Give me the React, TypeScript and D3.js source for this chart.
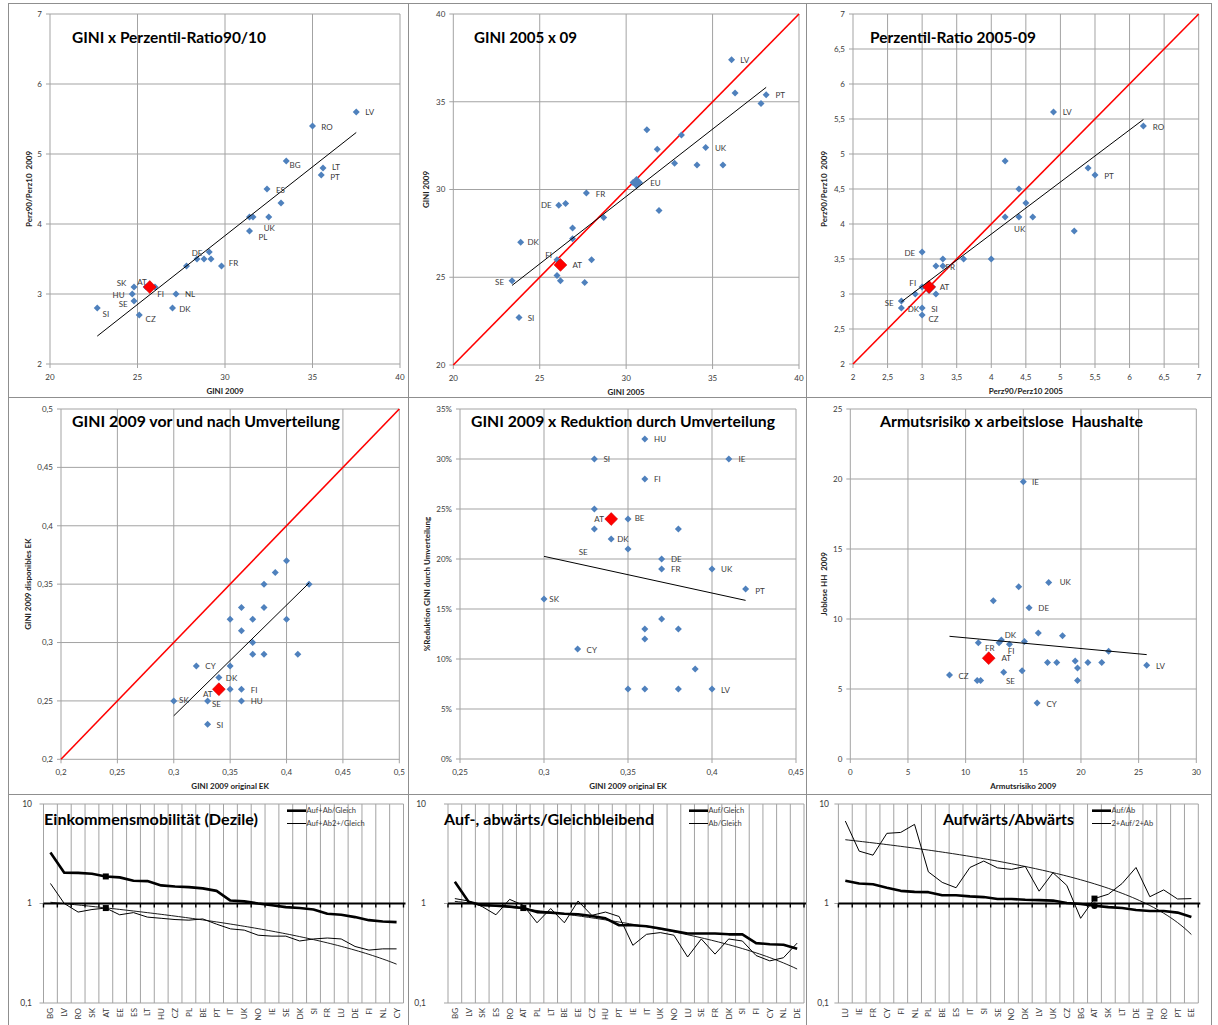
import React from "react";
import * as d3 from "d3";

type Pt = [string, number, number];
type Anchor = "start" | "middle" | "end";
type Off = Record<string, [number, number, Anchor?]>;

// ---------------- DATA ----------------
// Panel 1: GINI 2009 (x) vs Perz90/Perz10 2009 (y)
const p1Points: Pt[] = [
  ["LV", 37.5, 5.6], ["RO", 35.0, 5.4], ["BG", 33.5, 4.9], ["LT", 35.6, 4.8], ["PT", 35.5, 4.7],
  ["ES", 32.4, 4.5], ["", 33.2, 4.3], ["", 31.4, 4.1], ["UK", 31.6, 4.1], ["", 32.5, 4.1],
  ["PL", 31.4, 3.9], ["", 29.1, 3.6], ["DE", 28.4, 3.5], ["", 28.8, 3.5], ["", 29.2, 3.5],
  ["", 27.8, 3.4], ["FR", 29.8, 3.4], ["SK", 24.8, 3.1], ["", 25.5, 3.1], ["FI", 26.0, 3.1],
  ["HU", 24.7, 3.0], ["SE", 24.8, 2.9], ["NL", 27.2, 3.0], ["DK", 27.0, 2.8], ["CZ", 25.1, 2.7],
  ["SI", 22.7, 2.8],
];
const p1AT: Pt = ["AT", 25.7, 3.1];
const p1XTicks = [20, 25, 30, 35, 40];
const p1YTicks = [2, 3, 4, 5, 6, 7];

// Panel 2: GINI 2005 (x) vs GINI 2009 (y)
const p2Points: Pt[] = [
  ["LV", 36.1, 37.4], ["", 36.3, 35.5], ["PT", 38.1, 35.4], ["", 37.8, 34.9], ["", 31.2, 33.4],
  ["", 33.2, 33.1], ["", 31.8, 32.3], ["UK", 34.6, 32.4], ["", 32.8, 31.5], ["", 34.1, 31.4],
  ["", 35.6, 31.4], ["", 30.4, 30.4], ["", 31.9, 28.8], ["FR", 27.7, 29.8], ["DE", 26.1, 29.1],
  ["", 26.5, 29.2], ["", 28.7, 28.4], ["", 26.9, 27.8], ["", 26.9, 27.2], ["DK", 23.9, 27.0],
  ["", 28.0, 26.0], ["FI", 26.0, 26.0], ["", 26.0, 25.1], ["", 26.2, 24.8], ["", 27.6, 24.7],
  ["SE", 23.4, 24.8], ["SI", 23.8, 22.7],
];
const p2EU: Pt[] = [["EU", 30.6, 30.4]];
const p2AT: Pt = ["AT", 26.2, 25.7];
const p2Ticks = [20, 25, 30, 35, 40];

// Panel 3: Perz90/Perz10 2005 (x) vs 2009 (y)
const p3Points: Pt[] = [
  ["LV", 4.9, 5.6], ["RO", 6.2, 5.4], ["", 4.2, 4.9], ["", 5.4, 4.8], ["PT", 5.5, 4.7],
  ["", 4.4, 4.5], ["", 4.5, 4.3], ["", 4.2, 4.1], ["UK", 4.4, 4.1], ["", 4.6, 4.1],
  ["", 5.2, 3.9], ["DE", 3.0, 3.6], ["", 3.3, 3.5], ["", 3.6, 3.5], ["", 4.0, 3.5],
  ["", 3.2, 3.4], ["FR", 3.3, 3.4], ["FI", 3.0, 3.1], ["", 3.15, 3.1], ["", 3.1, 3.05],
  ["", 3.2, 3.0], ["", 2.9, 3.0], ["SE", 2.7, 2.9], ["DK", 2.7, 2.8], ["SI", 3.0, 2.8],
  ["CZ", 3.0, 2.7],
];
const p3AT: Pt = ["AT", 3.1, 3.1];
const p3Ticks = [2, 2.5, 3, 3.5, 4, 4.5, 5, 5.5, 6, 6.5, 7];

// Panel 4: GINI 2009 original EK (x) vs disponibles EK (y)
const p4Points: Pt[] = [
  ["", 0.40, 0.37], ["", 0.39, 0.36], ["", 0.38, 0.35], ["", 0.42, 0.35], ["", 0.36, 0.33],
  ["", 0.38, 0.33], ["", 0.35, 0.32], ["", 0.37, 0.32], ["", 0.40, 0.32], ["", 0.36, 0.31],
  ["", 0.37, 0.30], ["", 0.37, 0.29], ["", 0.38, 0.29], ["", 0.41, 0.29], ["CY", 0.32, 0.28],
  ["", 0.35, 0.28], ["DK", 0.34, 0.27], ["", 0.35, 0.26], ["FI", 0.36, 0.26], ["SK", 0.30, 0.25],
  ["SE", 0.33, 0.25], ["HU", 0.36, 0.25], ["SI", 0.33, 0.23],
];
const p4AT: Pt = ["AT", 0.34, 0.26];
const p4Ticks = [0.2, 0.25, 0.3, 0.35, 0.4, 0.45, 0.5];

// Panel 5: GINI 2009 original EK (x) vs % reduction (y)
const p5Points: Pt[] = [
  ["HU", 0.36, 0.32], ["SI", 0.33, 0.30], ["IE", 0.41, 0.30], ["FI", 0.36, 0.28], ["", 0.33, 0.25],
  ["BE", 0.35, 0.24], ["SE", 0.33, 0.23], ["", 0.38, 0.23], ["DK", 0.34, 0.22], ["", 0.35, 0.21],
  ["DE", 0.37, 0.20], ["FR", 0.37, 0.19], ["UK", 0.40, 0.19], ["PT", 0.42, 0.17], ["SK", 0.30, 0.16],
  ["", 0.37, 0.14], ["", 0.36, 0.13], ["", 0.38, 0.13], ["", 0.36, 0.12], ["CY", 0.32, 0.11],
  ["", 0.39, 0.09], ["", 0.35, 0.07], ["", 0.36, 0.07], ["", 0.38, 0.07], ["LV", 0.40, 0.07],
];
const p5AT: Pt = ["AT", 0.34, 0.24];
const p5XTicks = [0.25, 0.3, 0.35, 0.4, 0.45];
const p5YTicks = [0, 0.05, 0.1, 0.15, 0.2, 0.25, 0.3, 0.35];

// Panel 6: Armutsrisiko 2009 (x) vs Joblose HH 2009 (y)
const p6Points: Pt[] = [
  ["IE", 15.0, 19.8], ["UK", 17.2, 12.6], ["", 14.6, 12.3], ["", 12.4, 11.3], ["DE", 15.5, 10.8],
  ["", 16.3, 9.0], ["", 18.4, 8.8], ["DK", 13.1, 8.5], ["", 15.1, 8.4], ["", 12.9, 8.3],
  ["FR", 11.1, 8.3], ["FI", 13.8, 8.2], ["", 22.4, 7.7], ["", 17.1, 6.9], ["", 17.9, 6.9],
  ["", 19.5, 7.0], ["", 20.6, 6.9], ["", 21.8, 6.9], ["", 19.7, 6.5], ["LV", 25.7, 6.7],
  ["CZ", 8.6, 6.0], ["SE", 13.3, 6.2], ["", 14.9, 6.3], ["", 11.0, 5.6], ["", 11.3, 5.6],
  ["", 19.7, 5.6], ["CY", 16.2, 4.0],
];
const p6AT: Pt = ["AT", 12.0, 7.2];
const p6XTicks = [0, 5, 10, 15, 20, 25, 30];
const p6YTicks = [0, 5, 10, 15, 20, 25];

// Panel 7: Einkommensmobilität (Dezile)
const p7Cats = ["BG", "LV", "RO", "SK", "AT", "EE", "ES", "LT", "HU", "CZ", "PL", "BE", "PT", "IT", "UK", "NO", "IE", "SE", "DK", "SI", "FR", "LU", "DE", "FI", "NL", "CY"];
const p7Thick = [3.26, 2.04, 2.03, 1.99, 1.87, 1.83, 1.69, 1.68, 1.52, 1.48, 1.46, 1.42, 1.34, 1.07, 1.05, 1.0, 0.96, 0.92, 0.9, 0.87, 0.79, 0.77, 0.73, 0.68, 0.66, 0.65];
const p7Thin = [1.59, 1.0, 0.82, 0.87, 0.9, 0.77, 0.81, 0.73, 0.71, 0.69, 0.68, 0.7, 0.62, 0.556, 0.54, 0.48, 0.47, 0.47, 0.42, 0.44, 0.45, 0.44, 0.37, 0.34, 0.35, 0.35];

// Panel 8: Auf-, abwärts/Gleichbleibend
const p8Cats = ["BG", "LV", "SK", "ES", "RO", "AT", "PL", "LT", "BE", "EE", "CZ", "HU", "PT", "IE", "IT", "UK", "NO", "LU", "SE", "FR", "DK", "SI", "FI", "CY", "NL", "DE"];
const p8Thick = [1.65, 1.04, 0.96, 0.95, 0.93, 0.9, 0.82, 0.81, 0.79, 0.78, 0.75, 0.71, 0.605, 0.605, 0.59, 0.56, 0.53, 0.5, 0.5, 0.5, 0.49, 0.49, 0.4, 0.39, 0.385, 0.35];
const p8Thin = [1.12, 1.06, 0.93, 0.77, 1.1, 0.96, 0.64, 0.89, 0.64, 1.06, 0.76, 0.82, 0.74, 0.38, 0.49, 0.51, 0.48, 0.29, 0.44, 0.31, 0.44, 0.42, 0.3, 0.265, 0.285, 0.4];

// Panel 9: Aufwärts/Abwärts
const p9Cats = ["LU", "IE", "FR", "CY", "FI", "NL", "PL", "BE", "ES", "IT", "SI", "SE", "NO", "DK", "LV", "UK", "CZ", "BG", "AT", "SK", "LT", "DE", "HU", "RO", "PT", "EE"];
const p9Thick = [1.69, 1.59, 1.56, 1.44, 1.34, 1.31, 1.3, 1.21, 1.21, 1.18, 1.16, 1.11, 1.11, 1.09, 1.08, 1.07, 1.01, 0.99, 0.95, 0.92, 0.9, 0.86, 0.84, 0.84, 0.81, 0.73];
const p9Thin = [6.74, 3.36, 3.06, 5.07, 5.18, 6.24, 2.08, 1.63, 1.44, 2.3, 2.67, 2.28, 2.2, 2.36, 1.33, 2.04, 1.52, 0.71, 1.12, 1.24, 1.59, 2.3, 1.17, 1.37, 1.11, 1.12];

const logTicks = [0.1, 1, 10];

// ---------------- STYLE / LAYOUT ----------------
const FONT = "Lato, 'Open Sans', 'DejaVu Sans', sans-serif";
const GRID = "#a3a3a3";
const BLUE = "#4F81BD";
const TXT = "#3a3a3a";

const comma = (v: number) => String(v).replace(".", ",");
const pct = (v: number) => `${Math.round(v * 100)}%`;

function linReg(pts: [number, number][]): [number, number] {
  const mx = d3.mean(pts, (p) => p[0]) as number;
  const my = d3.mean(pts, (p) => p[1]) as number;
  let sxy = 0;
  let sxx = 0;
  for (const [a, b] of pts) {
    sxy += (a - mx) * (b - my);
    sxx += (a - mx) * (a - mx);
  }
  const s = sxy / sxx;
  return [s, my - s * mx];
}

const diamond = (r: number) => `M0,${-r}L${r},0L0,${r}L${-r},0Z`;

interface ScatterProps {
  plot: [number, number, number, number];
  xDomain: [number, number];
  yDomain: [number, number];
  xTicks: number[];
  yTicks: number[];
  fmtX: (v: number) => string;
  fmtY: (v: number) => string;
  title: string;
  titleX: number;
  titleY: number;
  titleW: number;
  titleSize: number;
  xTitle: string;
  yTitle: string;
  yTitleX: number;
  points: Pt[];
  at: Pt;
  extra?: Pt[];
  diag?: boolean;
  offsets: Off;
}

function Scatter(p: ScatterProps) {
  const [x0, x1, y0, y1] = p.plot;
  const x = d3.scaleLinear().domain(p.xDomain).range([x0, x1]);
  const y = d3.scaleLinear().domain(p.yDomain).range([y1, y0]);
  const [m, b] = linReg(p.points.map((q) => [q[1], q[2]] as [number, number]));
  const [ex0, ex1] = d3.extent(p.points, (q) => q[1]) as [number, number];
  const trend = d3.line()([
    [x(ex0), y(m * ex0 + b)],
    [x(ex1), y(m * ex1 + b)],
  ]) as string;
  const labelled = [...p.points, ...(p.extra || []), p.at].filter((q) => q[0]);
  return (
    <g>
      {p.xTicks.map((t, i) => (
        <line key={"gx" + i} x1={x(t)} x2={x(t)} y1={y0} y2={y1 + 4} stroke={GRID} strokeWidth={1} />
      ))}
      {p.yTicks.map((t, i) => (
        <line key={"gy" + i} x1={x0 - 4} x2={x1} y1={y(t)} y2={y(t)} stroke={GRID} strokeWidth={1} />
      ))}
      {p.xTicks.map((t, i) => (
        <text key={"tx" + i} x={x(t)} y={y1 + 16} textAnchor="middle" fontSize={8} fill={TXT}>
          {p.fmtX(t)}
        </text>
      ))}
      {p.yTicks.map((t, i) => (
        <text key={"ty" + i} x={x0 - 8} y={y(t)} dy="0.35em" textAnchor="end" fontSize={8} fill={TXT}>
          {p.fmtY(t)}
        </text>
      ))}
      <text x={(x0 + x1) / 2} y={y1 + 29.5} textAnchor="middle" fontSize={8} fontWeight="bold" fill="#222">
        {p.xTitle}
      </text>
      <text
        transform={`translate(${p.yTitleX + 3},${(y0 + y1) / 2}) rotate(-90)`}
        textAnchor="middle"
        fontSize={8}
        fontWeight="bold"
        fill="#222"
        style={{ whiteSpace: "pre" }}
      >
        {p.yTitle}
      </text>
      {p.diag && (
        <line
          x1={x(p.xDomain[0])}
          y1={y(p.yDomain[0])}
          x2={x(p.xDomain[1])}
          y2={y(p.yDomain[1])}
          stroke="#FF0000"
          strokeWidth={1.6}
        />
      )}
      {p.points.map((q, i) => (
        <path key={"pt" + i} d={diamond(3.5)} transform={`translate(${x(q[1])},${y(q[2])})`} fill={BLUE} />
      ))}
      {(p.extra || []).map((q, i) => (
        <path key={"ex" + i} d={diamond(6.5)} transform={`translate(${x(q[1])},${y(q[2])})`} fill={BLUE} />
      ))}
      <path d={diamond(6.4)} transform={`translate(${x(p.at[1])},${y(p.at[2])})`} fill="#FF0000" stroke="#d00000" strokeWidth={0.6} />
      <path d={trend} stroke="#000" strokeWidth={1} fill="none" />
      {labelled.map((q, i) => {
        const o = p.offsets[q[0]] || [9, 0.5, "start"];
        return (
          <text
            key={"lb" + i}
            x={x(q[1]) + o[0]}
            y={y(q[2]) + o[1]}
            dy="0.35em"
            textAnchor={o[2] || "start"}
            fontSize={8}
            fill={TXT}
          >
            {q[0]}
          </text>
        );
      })}
      <text
        x={p.titleX}
        y={p.titleY}
        fontSize={p.titleSize}
        fontWeight="bold"
        fill="#000"
        textLength={p.titleW}
        lengthAdjust="spacingAndGlyphs"
        style={{ whiteSpace: "pre" }}
      >
        {p.title}
      </text>
    </g>
  );
}

interface LineProps {
  plot: [number, number, number, number];
  cats: string[];
  thick: number[];
  thin: number[];
  title: string;
  titleX: number;
  titleW: number;
  legend: [string, string];
  legendX: number;
  tickLabelX: number;
  marks: { series: "thick" | "thin"; shape: "square" | "circle" }[];
}

function LinePanel(p: LineProps) {
  const [x0, x1, y0, y1] = p.plot;
  const x = d3.scaleBand<string>().domain(p.cats).range([x0, x1]);
  const bw = x.bandwidth();
  const y = d3.scaleLog().domain([0.1, 10]).range([y1, y0]);
  const cx = (c: string) => (x(c) as number) + bw / 2;
  const bounds = [...p.cats.map((c) => x(c) as number), x1];
  const line = d3
    .line<[string, number]>()
    .x((d) => cx(d[0]))
    .y((d) => y(d[1]));
  const thickPath = line(p.cats.map((c, i) => [c, p.thick[i]])) as string;
  const thinPath = line(p.cats.map((c, i) => [c, p.thin[i]])) as string;
  const [s, b] = linReg(p.thin.map((v, i) => [i, v] as [number, number]));
  const steps = d3.range(0, p.cats.length - 1 + 0.001, 0.25);
  const trendPath = d3.line()(steps.map((t) => [x0 + bw / 2 + t * bw, y(b + s * t)] as [number, number])) as string;
  const atIdx = p.cats.indexOf("AT");
  const lx = p.legendX;
  return (
    <g>
      {bounds.map((bx, i) => (
        <line key={"vb" + i} x1={bx} x2={bx} y1={y0} y2={y1} stroke={GRID} strokeWidth={1} />
      ))}
      {logTicks.map((t, i) => (
        <line key={"hg" + i} x1={x0 - 4} x2={x1} y1={y(t)} y2={y(t)} stroke={GRID} strokeWidth={1} />
      ))}
      {logTicks.map((t, i) => (
        <text key={"yl" + i} x={p.tickLabelX} y={y(t)} dy="0.35em" textAnchor="end" fontSize={8.5} fill={TXT}>
          {comma(t)}
        </text>
      ))}
      {p.cats.map((c, i) => (
        <text
          key={"cl" + i}
          transform={`translate(${cx(c) + 3},${y1 + 5}) rotate(-90)`}
          textAnchor="end"
          fontSize={8}
          fill={TXT}
        >
          {c}
        </text>
      ))}
      <path d={trendPath} stroke="#000" strokeWidth={0.9} fill="none" />
      <path d={thinPath} stroke="#000" strokeWidth={1} fill="none" />
      <path d={thickPath} stroke="#000" strokeWidth={2.6} fill="none" strokeLinejoin="round" />
      <line x1={x0} x2={x1 + 2} y1={y(1)} y2={y(1)} stroke="#000" strokeWidth={2.2} />
      {bounds.map((bx, i) => (
        <line key={"tk" + i} x1={bx} x2={bx} y1={y(1)} y2={y(1) + 4} stroke="#000" strokeWidth={1.4} />
      ))}
      {p.marks.map((mk, i) => {
        const v = mk.series === "thick" ? p.thick[atIdx] : p.thin[atIdx];
        const px = cx("AT");
        const py = y(v);
        return mk.shape === "square" ? (
          <rect key={"mk" + i} x={px - 3} y={py - 3} width={6} height={6} fill="#000" />
        ) : (
          <circle key={"mk" + i} cx={px} cy={py} r={3.2} fill="#000" />
        );
      })}
      <line x1={lx} x2={lx + 19} y1={810.7} y2={810.7} stroke="#000" strokeWidth={2.6} />
      <line x1={lx} x2={lx + 19} y1={823.5} y2={823.5} stroke="#000" strokeWidth={1} />
      <text x={lx + 19.5} y={810.7} dy="0.35em" fontSize={7.5} fill={TXT}>
        {p.legend[0]}
      </text>
      <text x={lx + 19.5} y={823.5} dy="0.35em" fontSize={7.5} fill={TXT}>
        {p.legend[1]}
      </text>
      <text
        x={p.titleX}
        y={825}
        fontSize={15.5}
        fontWeight="bold"
        fill="#000"
        textLength={p.titleW}
        lengthAdjust="spacingAndGlyphs"
      >
        {p.title}
      </text>
    </g>
  );
}

const cols = [8, 408, 806, 1211];
const rows = [3, 397, 794, 1030];

export default function App() {
  return (
    <svg
      width={1218}
      height={1025}
      style={{ position: "absolute", left: 0, top: 0, background: "#fff" }}
      fontFamily={FONT}
    >
      <rect x={0} y={0} width={1218} height={1025} fill="#fff" />
      {rows.slice(0, 3).map((ry, j) =>
        cols.slice(0, 3).map((cxx, i) => (
          <rect
            key={`fr${i}${j}`}
            x={cxx + 0.5}
            y={ry + 0.5}
            width={cols[i + 1] - cxx}
            height={rows[j + 1] - ry}
            fill="none"
            stroke="#8f8f8f"
            strokeWidth={1}
          />
        ))
      )}
      <Scatter
        plot={[50, 400, 14, 364]}
        xDomain={[20, 40]}
        yDomain={[2, 7]}
        xTicks={p1XTicks}
        yTicks={p1YTicks}
        fmtX={comma}
        fmtY={comma}
        title="GINI x Perzentil-Ratio90/10"
        titleX={72}
        titleY={43}
        titleW={194}
        titleSize={14.5}
        xTitle="GINI 2009"
        yTitle="Perz90/Perz10  2009"
        yTitleX={29.3}
        points={p1Points}
        at={p1AT}
        offsets={{
          LV: [9, 0], RO: [8.7, 0.7], BG: [3.3, 4], LT: [9, -0.8], PT: [9, 1.8], ES: [9, 1],
          UK: [10.7, 11.3], PL: [9, 6], DE: [-5.3, -6], FR: [7.3, -3.3], SK: [-7.7, -4, "end"],
          AT: [-3, -5.3, "end"], FI: [2.3, 7], HU: [-7.7, 0.7, "end"], SE: [-6.3, 2.7, "end"],
          NL: [9, 0.3], DK: [6.7, 0.7], CZ: [6.3, 4], SI: [5.3, 5.7],
        }}
      />
      <Scatter
        plot={[453.3, 799, 14, 365]}
        xDomain={[20, 40]}
        yDomain={[20, 40]}
        xTicks={p2Ticks}
        yTicks={p2Ticks}
        fmtX={comma}
        fmtY={comma}
        title="GINI 2005 x 09"
        titleX={474}
        titleY={43}
        titleW={103}
        titleSize={14.5}
        xTitle="GINI 2005"
        yTitle="GINI 2009"
        yTitleX={425.7}
        points={p2Points}
        at={p2AT}
        extra={p2EU}
        diag
        offsets={{
          LV: [8.7, 0.7], PT: [9.3, 0.7], UK: [9.3, 1], EU: [13.7, 0.7], FR: [9.3, 0.7],
          DE: [-7, 0, "end"], DK: [6.7, 0.3], FI: [-5, -4.3, "end"], AT: [12, 0.3],
          SE: [-8, 1.3, "end"], SI: [8.7, 0.7],
        }}
      />
      <Scatter
        plot={[853, 1198.7, 14, 364]}
        xDomain={[2, 7]}
        yDomain={[2, 7]}
        xTicks={p3Ticks}
        yTicks={p3Ticks}
        fmtX={comma}
        fmtY={comma}
        title="Perzentil-Ratio 2005-09"
        titleX={870}
        titleY={43}
        titleW={166}
        titleSize={14.5}
        xTitle="Perz90/Perz10 2005"
        yTitle="Perz90/Perz10  2009"
        yTitleX={824}
        points={p3Points}
        at={p3AT}
        diag
        offsets={{
          LV: [9.3, 0], RO: [9.3, 1], PT: [9.3, 1], UK: [0.7, 11.7, "middle"], DE: [-7, 0.7, "end"],
          FR: [2.7, 0.7], FI: [-6, -4.3, "end"], AT: [10.7, 0], SE: [-7.7, 1.7, "end"],
          DK: [6.3, 0.7], SI: [9, 0.7], CZ: [6.3, 3.7],
        }}
      />
      <Scatter
        plot={[61, 399.3, 409, 759.3]}
        xDomain={[0.2, 0.5]}
        yDomain={[0.2, 0.5]}
        xTicks={p4Ticks}
        yTicks={p4Ticks}
        fmtX={comma}
        fmtY={comma}
        title="GINI 2009 vor und nach Umverteilung"
        titleX={72}
        titleY={427}
        titleW={268}
        titleSize={14.5}
        xTitle="GINI 2009 original EK"
        yTitle="GINI 2009 disponibles EK"
        yTitleX={28.3}
        points={p4Points}
        at={p4AT}
        diag
        offsets={{
          CY: [9, 0.7], DK: [7, 0.7], AT: [-6.3, 5, "end"], FI: [9.3, 1], SK: [5.3, -0.7],
          SE: [4.3, 3.7], HU: [9.3, 0.7], SI: [9, 1],
        }}
      />
      <Scatter
        plot={[460, 796, 409, 759]}
        xDomain={[0.25, 0.45]}
        yDomain={[0, 0.35]}
        xTicks={p5XTicks}
        yTicks={p5YTicks}
        fmtX={comma}
        fmtY={pct}
        title="GINI 2009 x Reduktion durch Umverteilung"
        titleX={471}
        titleY={427}
        titleW={304}
        titleSize={14.5}
        xTitle="GINI 2009 original EK"
        yTitle="%Reduktion GINI durch Umverteilung"
        yTitleX={426.7}
        points={p5Points}
        at={p5AT}
        offsets={{
          HU: [9.3, 0], SI: [9, 0], IE: [9.7, 0], FI: [9.3, 0], AT: [-7.3, 0, "end"],
          BE: [6.7, -0.7], DK: [6, 0], SE: [-15.7, 23.3], DE: [9.3, 0], FR: [9.3, 0], UK: [9, 0],
          PT: [9.7, 2], SK: [5.3, 0], CY: [9, 1], LV: [9, 1],
        }}
      />
      <Scatter
        plot={[850.3, 1196.3, 409, 759]}
        xDomain={[0, 30]}
        yDomain={[0, 25]}
        xTicks={p6XTicks}
        yTicks={p6YTicks}
        fmtX={comma}
        fmtY={comma}
        title="Armutsrisiko x arbeitslose  Haushalte"
        titleX={880}
        titleY={427}
        titleW={263}
        titleSize={14.5}
        xTitle="Armutsrisiko 2009"
        yTitle="Joblose HH  2009"
        yTitleX={823.7}
        points={p6Points}
        at={p6AT}
        offsets={{
          IE: [8.7, 0], UK: [11, -0.3], DE: [9.3, 0], DK: [3.3, -5], FR: [6.7, 5.3], FI: [-1.7, 6.7],
          AT: [12.7, 0.3], CZ: [9, 0.7], SE: [2.3, 8.7], LV: [9.3, 0.7], CY: [9.3, 1],
        }}
      />
      <LinePanel
        plot={[43.5, 403.5, 804, 1003]}
        cats={p7Cats}
        thick={p7Thick}
        thin={p7Thin}
        title="Einkommensmobilität (Dezile)"
        titleX={44}
        titleW={214}
        legend={["Auf+Ab/Gleich", "Auf+Ab2+/Gleich"]}
        legendX={287}
        tickLabelX={32}
        marks={[
          { series: "thick", shape: "square" },
          { series: "thin", shape: "square" },
        ]}
      />
      <LinePanel
        plot={[448, 804, 804, 1003]}
        cats={p8Cats}
        thick={p8Thick}
        thin={p8Thin}
        title="Auf-, abwärts/Gleichbleibend"
        titleX={444}
        titleW={210}
        legend={["Auf/Gleich", "Ab/Gleich"]}
        legendX={689}
        tickLabelX={426}
        marks={[{ series: "thick", shape: "square" }]}
      />
      <LinePanel
        plot={[838.4, 1198.3, 804, 1003]}
        cats={p9Cats}
        thick={p9Thick}
        thin={p9Thin}
        title="Aufwärts/Abwärts"
        titleX={943}
        titleW={131}
        legend={["Auf/Ab", "2+Auf/2+Ab"]}
        legendX={1092}
        tickLabelX={829}
        marks={[
          { series: "thick", shape: "circle" },
          { series: "thin", shape: "square" },
        ]}
      />
    </svg>
  );
}
